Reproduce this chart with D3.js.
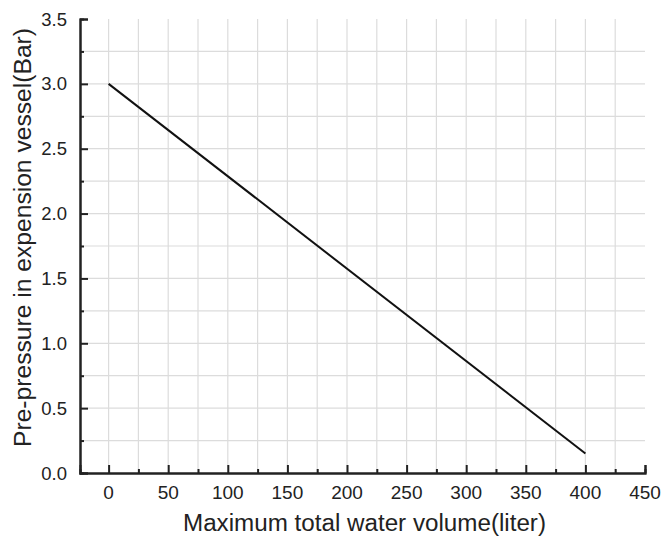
<!DOCTYPE html>
<html>
<head>
<meta charset="utf-8">
<script src="https://cdn.jsdelivr.net/npm/d3@7"></script>
<style>
  body { margin: 0; background: #fff; }
  text { font-family: "Liberation Sans", Arial, sans-serif; fill: #222; }
</style>
</head>
<body>
<div id="chart"></div>
<script>
// line data
var volumes = [0, 400];
var pressures = [3.0, 0.15];
var xTicks = [0, 50, 100, 150, 200, 250, 300, 350, 400, 450];
var yTicks = [0.0, 0.5, 1.0, 1.5, 2.0, 2.5, 3.0, 3.5];

var width = 663, height = 541;
var plotLeft = 80, plotRight = 645, plotTop = 19, plotBottom = 473;

var svg = d3.select('#chart').append('svg')
  .attr('width', width)
  .attr('height', height);

var x = d3.scaleLinear().domain([-24, 450]).range([plotLeft, plotRight]);
var y = d3.scaleLinear().domain([0, 3.5]).range([plotBottom, plotTop]);

// grid every 25 / 0.25
var xGrid = d3.range(0, 450, 25);
var yGrid = d3.range(0.25, 3.5, 0.25);

svg.append('g').selectAll('line').data(xGrid).enter().append('line')
  .attr('x1', function(d) { return x(d); })
  .attr('x2', function(d) { return x(d); })
  .attr('y1', y(3.5)).attr('y2', y(0))
  .attr('stroke', '#dcdcdc').attr('stroke-width', 1.2);

svg.append('g').selectAll('line').data(yGrid).enter().append('line')
  .attr('x1', x(-24)).attr('x2', x(450))
  .attr('y1', function(d) { return y(d); })
  .attr('y2', function(d) { return y(d); })
  .attr('stroke', '#dcdcdc').attr('stroke-width', 1.2);

// axes with inward ticks
var xAxis = d3.axisTop(x).tickValues(xTicks).tickSize(8).tickFormat('');
var xMinor = d3.axisTop(x).tickValues(d3.range(25, 450, 50)).tickSize(4).tickFormat('');
var yAxis = d3.axisRight(y).tickValues(yTicks).tickSize(8).tickFormat('');
var yMinor = d3.axisRight(y).tickValues(d3.range(0.25, 3.5, 0.5)).tickSize(4).tickFormat('');

[xAxis, xMinor].forEach(function(ax) {
  svg.append('g').attr('transform', 'translate(0,' + plotBottom + ')').call(ax)
    .call(function(g) { g.select('.domain').attr('stroke', '#222').attr('stroke-width', 2); })
    .call(function(g) { g.selectAll('.tick line').attr('stroke', '#222').attr('stroke-width', 2); });
});
[yAxis, yMinor].forEach(function(ax) {
  svg.append('g').attr('transform', 'translate(' + plotLeft + ',0)').call(ax)
    .call(function(g) { g.select('.domain').attr('stroke', '#222').attr('stroke-width', 2); })
    .call(function(g) { g.selectAll('.tick line').attr('stroke', '#222').attr('stroke-width', 2); });
});

// tick labels
svg.append('g').selectAll('text').data(xTicks).enter().append('text')
  .attr('x', function(d) { return x(d); })
  .attr('y', 499)
  .attr('text-anchor', 'middle')
  .style('font-size', '19px')
  .text(function(d) { return d; });

svg.append('g').selectAll('text').data(yTicks).enter().append('text')
  .attr('x', 67)
  .attr('y', function(d) { return y(d) + 6.5; })
  .attr('text-anchor', 'end')
  .style('font-size', '18.5px')
  .text(function(d) { return d.toFixed(1); });

// the line
var line = d3.line()
  .x(function(d) { return x(d[0]); })
  .y(function(d) { return y(d[1]); });

svg.append('path')
  .datum(d3.zip(volumes, pressures))
  .attr('d', line)
  .attr('fill', 'none')
  .attr('stroke', '#111')
  .attr('stroke-width', 2);

// axis titles
svg.append('text')
  .attr('x', 364.5).attr('y', 531)
  .attr('text-anchor', 'middle')
  .attr('textLength', 363)
  .attr('lengthAdjust', 'spacingAndGlyphs')
  .style('font-size', '23px')
  .text('Maximum total water volume(liter)');

svg.append('text')
  .attr('transform', 'translate(31,' + 237.5 + ') rotate(-90)')
  .attr('text-anchor', 'middle')
  .attr('textLength', 419)
  .attr('lengthAdjust', 'spacingAndGlyphs')
  .style('font-size', '23px')
  .text('Pre-pressure in expension vessel(Bar)');
</script>
</body>
</html>
